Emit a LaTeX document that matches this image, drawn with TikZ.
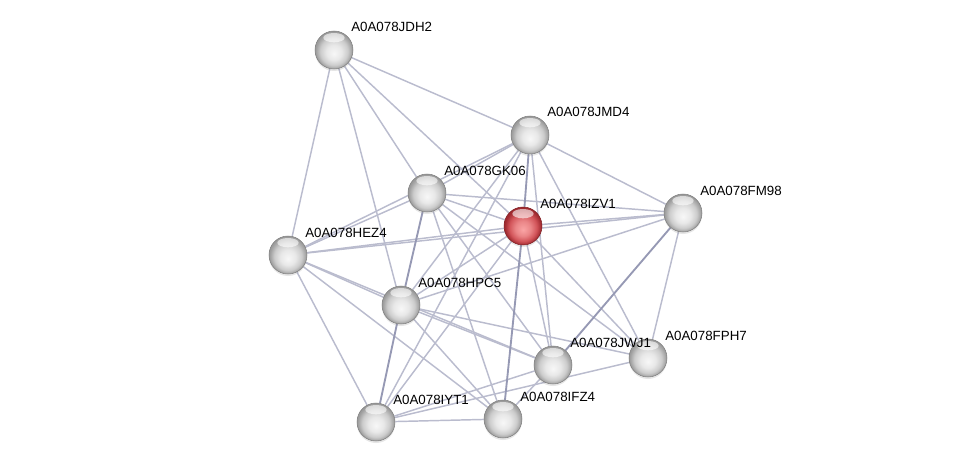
\documentclass[tikz,border=0pt]{standalone}
\usepackage{fontspec}
\setmainfont{Liberation Sans}
\usetikzlibrary{calc, backgrounds, shadows}
\definecolor{edgegray}{RGB}{186,188,206}
\definecolor{edgedark}{RGB}{150,153,180}
\definecolor{rimred}{RGB}{160,42,48}
\definecolor{midred}{RGB}{210,85,90}
\definecolor{corered}{RGB}{250,165,165}
\pgfdeclareradialshading{protball}{\pgfpoint{0bp}{-5bp}}{color(0bp)=(black!3); color(10bp)=(black!9); color(18bp)=(black!20); color(24bp)=(black!38); color(30bp)=(black!45)}
\pgfdeclareradialshading{queryball}{\pgfpoint{0bp}{-5bp}}{color(0bp)=(corered); color(10bp)=(corered!60!midred); color(18bp)=(midred); color(24bp)=(rimred); color(30bp)=(rimred)}

\begin{document}
\begin{tikzpicture}[
  x=0.75pt, y=-0.75pt,
  prot/.style={circle, minimum size=28.5pt, inner sep=0pt, shading=protball, draw=black!50, line width=0.4pt,
    drop shadow={shadow xshift=0pt, shadow yshift=-1.5pt, opacity=0.2},
    path picture={\fill[white, opacity=0.6] ([yshift=-5pt]path picture bounding box.north) ellipse (8pt and 3.5pt);}},
  query/.style={prot, shading=queryball, draw=rimred!80!black},
  tag/.style={anchor=base west, font=\fontsize{10}{12}\selectfont, inner sep=0pt},
  link/.style={edgegray, line width=1.1pt},
  strong/.style={edgedark, line width=1.4pt}
]
  \useasboundingbox (0,0) rectangle (975,467);

  % proteins
  \node[prot] (JDH2) at (334, 50) {};
  \node[prot] (JMD4) at (530, 135) {};
  \node[prot] (GK06) at (427, 193) {};
  \node[query] (IZV1) at (523, 226) {};
  \node[prot] (FM98) at (683, 213) {};
  \node[prot] (HEZ4) at (288, 255) {};
  \node[prot] (HPC5) at (401, 305) {};
  \node[prot] (JWJ1) at (553, 365) {};
  \node[prot] (FPH7) at (648, 358) {};
  \node[prot] (IYT1) at (376, 422) {};
  \node[prot] (IFZ4) at (503, 419) {};

  % names
  \foreach \p in {JDH2, JMD4, GK06, IZV1, FM98, HEZ4, HPC5, JWJ1, FPH7, IYT1, IFZ4}
    \node[tag] (t\p) at ($(\p)+(17,-18)$) {A0A078\p};

  % interactions
  \begin{scope}[on background layer]
    \foreach \a/\b in {JDH2/JMD4, JDH2/HEZ4, JDH2/HPC5, JDH2/GK06, JDH2/IZV1,
      JMD4/GK06, JMD4/HEZ4, JMD4/HPC5, JMD4/IYT1, JMD4/JWJ1, JMD4/FPH7, JMD4/FM98,
      GK06/HEZ4, GK06/FM98, GK06/IZV1, GK06/IFZ4, GK06/JWJ1, GK06/FPH7,
      IZV1/FM98, IZV1/HEZ4, IZV1/HPC5, IZV1/IYT1, IZV1/JWJ1, IZV1/FPH7,
      FM98/HEZ4, FM98/HPC5, FM98/FPH7,
      HEZ4/HPC5, HEZ4/JWJ1, HEZ4/IFZ4, HEZ4/IYT1,
      HPC5/JWJ1, HPC5/FPH7, HPC5/IFZ4,
      IYT1/IFZ4, IYT1/JWJ1, IYT1/FPH7, IFZ4/JWJ1}
      \draw[link] (\a) -- (\b);
    \foreach \a/\b in {JMD4/IZV1, GK06/HPC5, IZV1/IFZ4, FM98/JWJ1, HPC5/IYT1}
      \draw[strong] (\a) -- (\b);
  \end{scope}
\end{tikzpicture}
\end{document}
